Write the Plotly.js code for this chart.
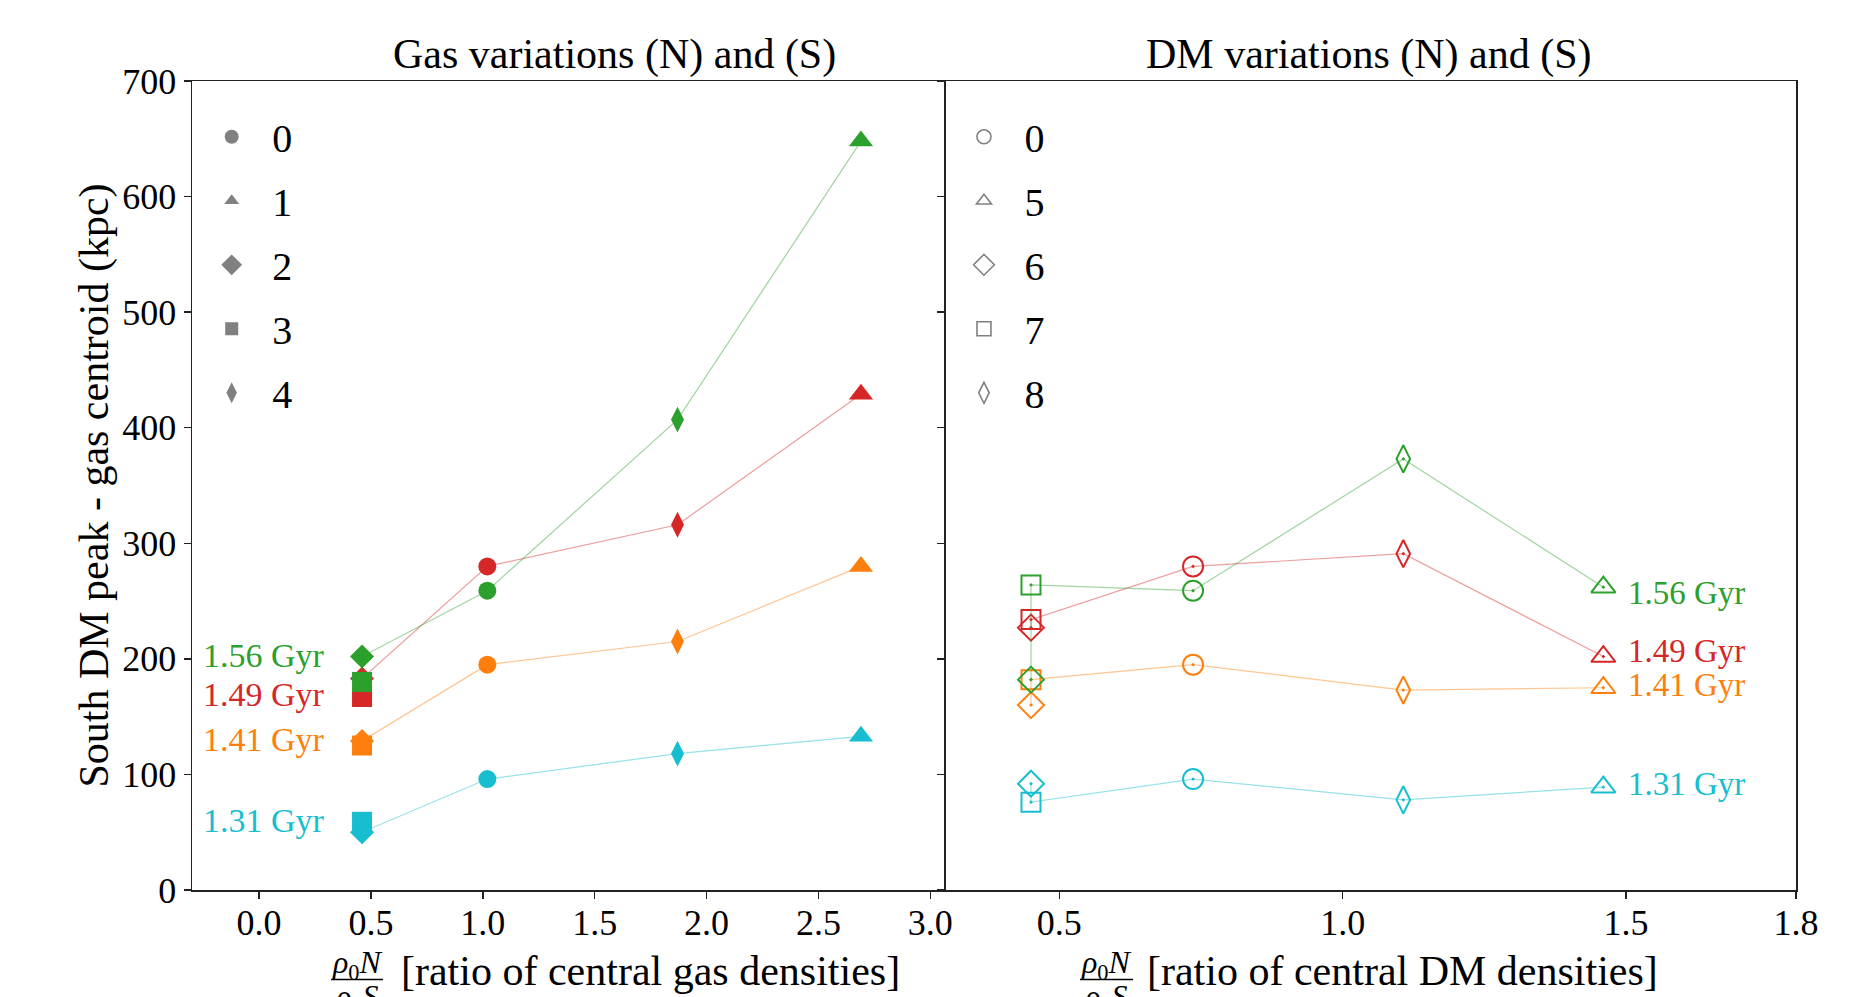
<!DOCTYPE html>
<html><head><meta charset="utf-8">
<script src="https://cdn.plot.ly/plotly-3.0.1.min.js"></script>
<style>html,body{margin:0;padding:0;background:#fff;}#chart{width:1866px;height:997px;}</style>
</head><body><div id="chart"></div>
<script>
// ---- data ----
const timeLabels = ['1.56 Gyr', '1.49 Gyr', '1.41 Gyr', '1.31 Gyr'];
const seriesColors = ['#2ca02c', '#d62728', '#ff7f0e', '#17becf'];
const lineColors = ['rgba(44,160,44,0.45)', 'rgba(214,39,40,0.45)', 'rgba(255,127,14,0.45)', 'rgba(23,190,207,0.45)'];

// Gas variations (left): runs in plotting order
const gasRuns = ['3', '2', '0', '4', '1'];
const gasRatio = [0.46, 0.46, 1.02, 1.87, 2.69];
const gas156 = [180, 202, 259, 407, 648];
const gas149 = [167, 183, 280, 316, 429];
const gas141 = [125, 129, 195, 215, 280];
const gas131 = [59, 50, 96, 118, 133];
const gasLabelY = [203, 169, 130, 60];

// DM variations (right)
const dmRuns = ['6', '7', '0', '8', '5'];
const dmRatio = [0.45, 0.45, 0.736, 1.107, 1.46];
const dm156 = [182, 264, 259, 373, 262];
const dm149 = [227, 234, 280, 291, 202];
const dm141 = [160, 182, 195, 173, 175];
const dm131 = [92, 76, 96, 78, 89];
const dmLabelY = [257, 207, 177, 92];

const gasLegend = ['0', '1', '2', '3', '4'];
const dmLegend = ['0', '5', '6', '7', '8'];

const yTicks = [0, 100, 200, 300, 400, 500, 600, 700];
const gasTicks = [0.0, 0.5, 1.0, 1.5, 2.0, 2.5, 3.0];
const gasTickText = ['0.0', '0.5', '1.0', '1.5', '2.0', '2.5', '3.0'];
const dmTicks = [0.5, 1.0, 1.5, 1.8];
const dmTickText = ['0.5', '1.0', '1.5', '1.8'];

// ---- styles ----
const FONT = 'Liberation Serif, Times New Roman, serif';
const gasSymbol = {'0': 'circle', '1': 'triangle-up', '2': 'diamond', '3': 'square', '4': 'diamond-tall'};
const gasSize = {'0': 18, '1': 21, '2': 18.5, '3': 20, '4': 18.5};
const dmSymbol = {'0': 'circle-open-dot', '5': 'triangle-up-open-dot', '6': 'diamond-open-dot', '7': 'square-open-dot', '8': 'diamond-tall-open-dot'};
const dmSize = {'0': 20, '5': 21, '6': 20, '7': 19, '8': 19.5};
const gasLegSize = {'0': 14, '1': 13, '2': 16, '3': 13, '4': 15};
const dmLegSize = {'0': 14, '5': 13, '6': 16, '7': 14, '8': 15};

const gasSeries = [gas156, gas149, gas141, gas131];
const dmSeries = [dm156, dm149, dm141, dm131];

const traces = [];
for (let i = seriesColors.length - 1; i >= 0; i--) {
  traces.push({
    x: gasRatio, y: gasSeries[i], xaxis: 'x', yaxis: 'y', type: 'scatter', mode: 'lines+markers',
    line: {color: lineColors[i], width: 1.2},
    marker: {color: seriesColors[i], opacity: 1, symbol: gasRuns.map(r => gasSymbol[r]), size: gasRuns.map(r => gasSize[r]), line: {width: 0}},
    showlegend: false, hoverinfo: 'skip'
  });
  traces.push({
    x: dmRatio, y: dmSeries[i], xaxis: 'x2', yaxis: 'y2', type: 'scatter', mode: 'lines+markers',
    line: {color: lineColors[i], width: 1.2},
    marker: {color: seriesColors[i], opacity: 1, symbol: dmRuns.map(r => dmSymbol[r]), size: dmRuns.map(r => dmSize[r]), line: {width: 2, color: seriesColors[i]}},
    showlegend: false, hoverinfo: 'skip'
  });
}
gasLegend.forEach(r => traces.push({
  x: [null], y: [null], xaxis: 'x', yaxis: 'y', type: 'scatter', mode: 'markers', name: r,
  marker: {color: '#808080', opacity: 1, symbol: gasSymbol[r], size: gasLegSize[r]},
  legend: 'legend', legendgroup: 'g' + r, showlegend: true
}));
dmLegend.forEach(r => traces.push({
  x: [null], y: [null], xaxis: 'x2', yaxis: 'y2', type: 'scatter', mode: 'markers', name: r,
  marker: {color: '#808080', opacity: 1, symbol: dmSymbol[r].replace('-dot', ''), size: dmLegSize[r], line: {width: 1.6, color: '#808080'}},
  legend: 'legend2', legendgroup: 'd' + r, showlegend: true
}));

const annotations = [];
timeLabels.forEach((t, i) => {
  annotations.push({xref: 'x', yref: 'y', x: 0.305, y: gasLabelY[i], text: t, showarrow: false,
    xanchor: 'right', yanchor: 'middle', font: {family: FONT, size: 34, color: seriesColors[i]}});
  annotations.push({xref: 'x2', yref: 'y2', x: 1.5, y: dmLabelY[i], text: t, showarrow: false,
    xanchor: 'left', yanchor: 'middle', font: {family: FONT, size: 33, color: seriesColors[i]}});
});
const titleFont = {family: FONT, size: 42, color: '#000'};
annotations.push({xref: 'paper', yref: 'paper', x: 0.2631, y: 1.0324, text: 'Gas variations (N) and (S)', showarrow: false, xanchor: 'center', yanchor: 'middle', font: titleFont});
annotations.push({xref: 'paper', yref: 'paper', x: 0.7335, y: 1.0324, text: 'DM variations (N) and (S)', showarrow: false, xanchor: 'center', yanchor: 'middle', font: titleFont});
// x-axis labels (fraction + text)
const fracFont = {family: FONT, size: 32, color: '#000'};
const num = '<i>ρ</i><sub>0</sub><i>N</i>';
const den = '<i>ρ</i><sub>0</sub><i>S</i>';
[[0.1029, 0.1291, 'gas'], [0.5701, 0.5941, 'DM']].forEach(([fx, tx, w]) => {
  annotations.push({xref: 'paper', yref: 'paper', x: fx, y: -0.0915, text: num, showarrow: false, xanchor: 'center', yanchor: 'middle', font: fracFont});
  annotations.push({xref: 'paper', yref: 'paper', x: fx, y: -0.1335, text: den, showarrow: false, xanchor: 'center', yanchor: 'middle', font: fracFont});
  annotations.push({xref: 'paper', yref: 'paper', x: tx, y: -0.0999, text: '[ratio of central ' + w + ' densities]', showarrow: false, xanchor: 'left', yanchor: 'middle', font: titleFont});
});
const shapes = [
  {type: 'line', xref: 'paper', yref: 'paper', x0: 0.0867, x1: 0.1191, y0: -0.1105, y1: -0.1105, line: {color: '#000', width: 1.5}},
  {type: 'line', xref: 'paper', yref: 'paper', x0: 0.5536, x1: 0.5867, y0: -0.1105, y1: -0.1105, line: {color: '#000', width: 1.5}}
];

const axCommon = {showline: true, mirror: true, linecolor: '#222', linewidth: 1.5, ticks: 'outside', ticklen: 7, tickwidth: 1.4, tickcolor: '#222',
  showgrid: false, zeroline: false, tickfont: {family: FONT, size: 36, color: '#000'}, fixedrange: true};

const legendCommon = {xanchor: 'left', yanchor: 'top', font: {family: FONT, size: 40, color: '#000'}, itemwidth: 71, tracegroupgap: 9, bgcolor: 'rgba(0,0,0,0)', borderwidth: 0};

const layout = {
  width: 1866, height: 997,
  margin: {l: 192, r: 70, t: 81, b: 107},
  paper_bgcolor: '#fff', plot_bgcolor: '#fff',
  font: {family: FONT, color: '#000'},
  hovermode: false,
  xaxis: Object.assign({}, axCommon, {domain: [0, 0.47007], range: [-0.3, 3.07], tickvals: gasTicks, ticktext: gasTickText, anchor: 'y', ticklabelstandoff: -7}),
  xaxis2: Object.assign({}, axCommon, {domain: [0.47007, 1], range: [0.3, 1.8], tickvals: dmTicks, ticktext: dmTickText, anchor: 'y2', ticklabelstandoff: -7}),
  yaxis: Object.assign({}, axCommon, {range: [0, 700], tickvals: yTicks, anchor: 'x', mirror: false,
    title: {text: 'South DM peak - gas centroid (kpc)', font: {family: FONT, size: 42, color: '#000'}, standoff: 0}}),
  yaxis2: Object.assign({}, axCommon, {matches: 'y', range: [0, 700], tickvals: yTicks, anchor: 'x2', showticklabels: false}),
  legend: Object.assign({}, legendCommon, {x: -0.0005, y: 0.9712}),
  legend2: Object.assign({}, legendCommon, {x: 0.4685, y: 0.9712}),
  annotations: annotations,
  shapes: shapes
};
Plotly.newPlot('chart', traces, layout, {staticPlot: true, displayModeBar: false});
</script></body></html>
